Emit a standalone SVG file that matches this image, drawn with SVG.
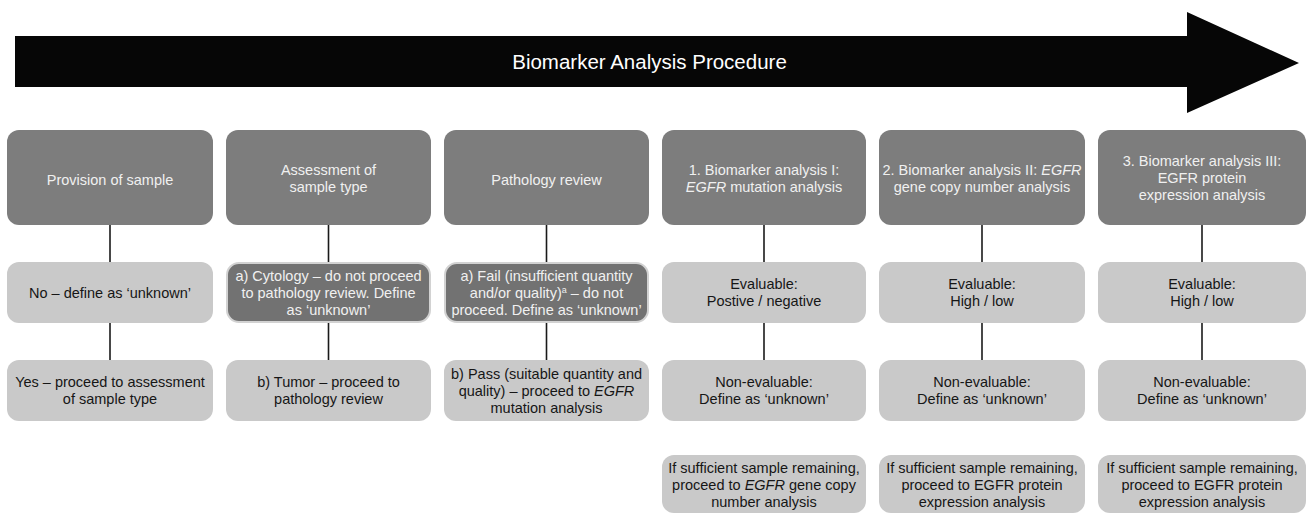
<svg xmlns="http://www.w3.org/2000/svg" width="1308" height="516" viewBox="0 0 1308 516">
<style>
text{font-family:"Liberation Sans",Arial,Helvetica,sans-serif;font-size:14.5px;text-anchor:middle}
.dk{fill:#7d7d7d}
.dk2{fill:#727272;stroke:#d2d2d2;stroke-width:2}
.lt{fill:#c9c9c9}
.tw{fill:#f0f0f0}
.tb{fill:#161616}
.ttl{font-size:20.5px;fill:#ffffff}
.conn line{stroke:#1a1a1a;stroke-width:1.6}
</style>
<rect width="1308" height="516" fill="#ffffff"/>
<g id="header">
<polygon points="15,36 1187,36 1187,12 1299,63 1187,113 1187,87 15,87" fill="#060606"/>
<text class="ttl" x="649.5" y="69">Biomarker Analysis Procedure</text>
</g>
<g class="conn" id="connectors">
<line x1="110" y1="225" x2="110" y2="262"/>
<line x1="328.5" y1="225" x2="328.5" y2="262"/>
<line x1="546.5" y1="225" x2="546.5" y2="262"/>
<line x1="764" y1="225" x2="764" y2="262"/>
<line x1="982" y1="225" x2="982" y2="262"/>
<line x1="1202" y1="225" x2="1202" y2="262"/>
<line x1="110" y1="323" x2="110" y2="360"/>
<line x1="328.5" y1="323" x2="328.5" y2="360"/>
<line x1="546.5" y1="323" x2="546.5" y2="360"/>
<line x1="764" y1="323" x2="764" y2="360"/>
<line x1="982" y1="323" x2="982" y2="360"/>
<line x1="1202" y1="323" x2="1202" y2="360"/>
</g>
<!-- Row 1 -->
<g id="n-provision"><rect class="dk" x="7" y="130" width="206" height="95" rx="12"/><text class="tw" x="110" y="184.5">Provision of sample</text></g>
<g id="n-assessment"><rect class="dk" x="226" y="130" width="205" height="95" rx="12"/><text class="tw" x="328.5" y="175">Assessment of</text><text class="tw" x="328.5" y="192">sample type</text></g>
<g id="n-pathology"><rect class="dk" x="444" y="130" width="205" height="95" rx="12"/><text class="tw" x="546.5" y="184.5">Pathology review</text></g>
<g id="n-bio1"><rect class="dk" x="662" y="130" width="204" height="95" rx="12"/><text class="tw" x="764" y="175">1. Biomarker analysis I:</text><text class="tw" x="764" y="192"><tspan font-style="italic">EGFR</tspan> mutation analysis</text></g>
<g id="n-bio2"><rect class="dk" x="879" y="130" width="206" height="95" rx="12"/><text class="tw" x="982" y="175">2. Biomarker analysis II: <tspan font-style="italic">EGFR</tspan></text><text class="tw" x="982" y="192">gene copy number analysis</text></g>
<g id="n-bio3"><rect class="dk" x="1098" y="130" width="208" height="95" rx="12"/><text class="tw" x="1202" y="166">3. Biomarker analysis III:</text><text class="tw" x="1202" y="183">EGFR protein</text><text class="tw" x="1202" y="200">expression analysis</text></g>
<!-- Row 2 -->
<g id="n-no"><rect class="lt" x="7" y="262" width="206" height="61" rx="12"/><text class="tb" x="110" y="297.5">No – define as ‘unknown’</text></g>
<g id="n-cytology"><rect class="dk2" x="227" y="263" width="203" height="59" rx="12"/><text class="tw" x="328.5" y="280.5">a) Cytology – do not proceed</text><text class="tw" x="328.5" y="297.5">to pathology review. Define</text><text class="tw" x="328.5" y="314.5">as ‘unknown’</text></g>
<g id="n-fail"><rect class="dk2" x="445" y="263" width="203" height="59" rx="12"/><text class="tw" x="546.5" y="280.5">a) Fail (insufficient quantity</text><text class="tw" x="546.5" y="297.5">and/or quality)<tspan font-size="9" dy="-5">a</tspan><tspan dy="5"> – do not</tspan></text><text class="tw" x="546.5" y="314.5">proceed. Define as ‘unknown’</text></g>
<g id="n-eval1"><rect class="lt" x="662" y="262" width="204" height="61" rx="12"/><text class="tb" x="764" y="289">Evaluable:</text><text class="tb" x="764" y="306">Postive / negative</text></g>
<g id="n-eval2"><rect class="lt" x="879" y="262" width="206" height="61" rx="12"/><text class="tb" x="982" y="289">Evaluable:</text><text class="tb" x="982" y="306">High / low</text></g>
<g id="n-eval3"><rect class="lt" x="1098" y="262" width="208" height="61" rx="12"/><text class="tb" x="1202" y="289">Evaluable:</text><text class="tb" x="1202" y="306">High / low</text></g>
<!-- Row 3 -->
<g id="n-yes"><rect class="lt" x="7" y="360" width="206" height="61" rx="12"/><text class="tb" x="110" y="387">Yes – proceed to assessment</text><text class="tb" x="110" y="404">of sample type</text></g>
<g id="n-tumor"><rect class="lt" x="226" y="360" width="205" height="61" rx="12"/><text class="tb" x="328.5" y="387">b) Tumor – proceed to</text><text class="tb" x="328.5" y="404">pathology review</text></g>
<g id="n-pass"><rect class="lt" x="444" y="360" width="205" height="61" rx="12"/><text class="tb" x="546.5" y="378.5">b) Pass (suitable quantity and</text><text class="tb" x="546.5" y="395.5">quality) – proceed to <tspan font-style="italic">EGFR</tspan></text><text class="tb" x="546.5" y="412.5">mutation analysis</text></g>
<g id="n-noneval1"><rect class="lt" x="662" y="360" width="204" height="61" rx="12"/><text class="tb" x="764" y="387">Non-evaluable:</text><text class="tb" x="764" y="404">Define as ‘unknown’</text></g>
<g id="n-noneval2"><rect class="lt" x="879" y="360" width="206" height="61" rx="12"/><text class="tb" x="982" y="387">Non-evaluable:</text><text class="tb" x="982" y="404">Define as ‘unknown’</text></g>
<g id="n-noneval3"><rect class="lt" x="1098" y="360" width="208" height="61" rx="12"/><text class="tb" x="1202" y="387">Non-evaluable:</text><text class="tb" x="1202" y="404">Define as ‘unknown’</text></g>
<!-- Row 4 -->
<g id="n-next1"><rect class="lt" x="662" y="455" width="204" height="58" rx="12"/><text class="tb" x="764" y="473">If sufficient sample remaining,</text><text class="tb" x="764" y="490">proceed to <tspan font-style="italic">EGFR</tspan> gene copy</text><text class="tb" x="764" y="507">number analysis</text></g>
<g id="n-next2"><rect class="lt" x="879" y="455" width="206" height="58" rx="12"/><text class="tb" x="982" y="473">If sufficient sample remaining,</text><text class="tb" x="982" y="490">proceed to EGFR protein</text><text class="tb" x="982" y="507">expression analysis</text></g>
<g id="n-next3"><rect class="lt" x="1098" y="455" width="208" height="58" rx="12"/><text class="tb" x="1202" y="473">If sufficient sample remaining,</text><text class="tb" x="1202" y="490">proceed to EGFR protein</text><text class="tb" x="1202" y="507">expression analysis</text></g>
</svg>
